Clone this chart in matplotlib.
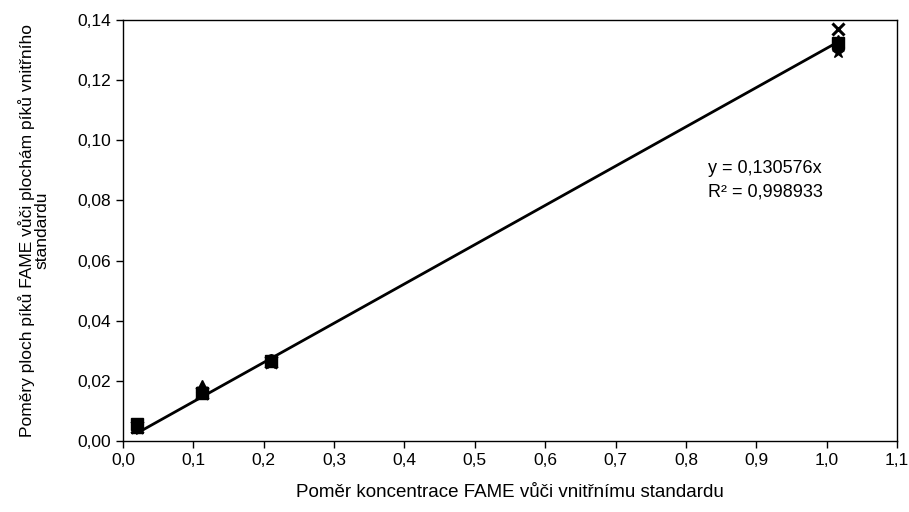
import numpy as np
import matplotlib.pyplot as plt
from matplotlib.ticker import FuncFormatter

plt.rcParams['font.family'] = ['Liberation Sans', 'DejaVu Sans']

# concentration ratios (x) and peak area ratios (y) for each FAME
conc = [0.02, 0.113, 0.21, 1.016]
y_square = [0.0055, 0.0160, 0.0265, 0.1325]
y_triangle = [0.0045, 0.0182, 0.0270, 0.1330]
y_circle = [0.0050, 0.0165, 0.0268, 0.1320]
y_cross = [0.0048, 0.0158, 0.0262, 0.1370]
y_star = [0.0043, 0.0157, 0.0258, 0.1295]

slope = 0.130576
r2 = 0.998933

fig = plt.figure(figsize=(9.09, 5.12), dpi=100)
ax = fig.add_axes([0.1353, 0.1387, 0.8515, 0.8223])

# linear fit through origin, drawn over the measured range
fit_x = np.array([conc[0], max(conc)])
ax.plot(fit_x, slope * fit_x, color='black', lw=2, zorder=1)

ax.plot(conc, y_square, 's', color='black', ms=8, zorder=3)
ax.plot(conc, y_triangle, '^', color='black', ms=8, zorder=3)
ax.plot(conc, y_circle, 'o', color='black', ms=8, zorder=3)
ax.plot(conc, y_cross, 'x', color='black', ms=8, mew=2.2, zorder=3)
ax.plot(conc, y_star, '*', color='black', ms=9, zorder=3)

ax.set_xlim(0, 1.1)
ax.set_ylim(0, 0.14)
ax.set_xticks(np.arange(0, 1.11, 0.1))
ax.set_yticks(np.arange(0, 0.141, 0.02))
ax.xaxis.set_major_formatter(FuncFormatter(lambda v, p: f"{v:.1f}".replace('.', ',')))
ax.yaxis.set_major_formatter(FuncFormatter(lambda v, p: f"{v:.2f}".replace('.', ',')))
ax.tick_params(direction='out', length=5, width=1, labelsize=12.5, color='black')
for s in ax.spines.values():
    s.set_linewidth(1)

ax.text(0.831, 0.0905, f"y = {slope:.6f}x".replace('.', ','), fontsize=13,
        va='center')
ax.text(0.831, 0.0828, f"R² = {r2:.6f}".replace('.', ','), fontsize=13,
        va='center')

ax.set_xlabel("Poměr koncentrace FAME vůči vnitřnímu standardu", fontsize=13.5, labelpad=12)
ax.set_ylabel("Poměry ploch píků FAME vůči plochám píků vnitřního\nstandardu",
              fontsize=12.5, labelpad=20, linespacing=1.0)

fig.savefig("out.png", dpi=100)
